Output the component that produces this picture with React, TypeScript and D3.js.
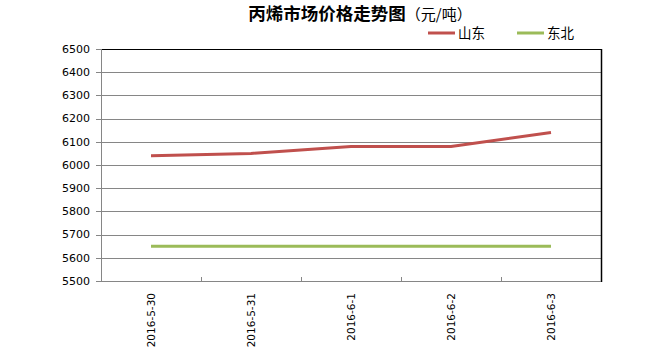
import React from "react";
import * as d3 from "d3";

const categories = ["2016-5-30", "2016-5-31", "2016-6-1", "2016-6-2", "2016-6-3"];
const shandong = [6040, 6050, 6080, 6080, 6140];
const dongbei = [5650, 5650, 5650, 5650, 5650];
const yTicks = [5500, 5600, 5700, 5800, 5900, 6000, 6100, 6200, 6300, 6400, 6500];
const seriesNames = ["山东", "东北"];
const colors = ["#C0504D", "#9BBB59"];

export default function App() {
  const W = 660, H = 349;
  const L = 101, R = 601, T = 49, B = 281;
  const x = d3.scaleBand<string>().domain(categories).range([L, R]);
  const y = d3.scaleLinear().domain([5500, 6500]).range([B, T]);
  const line = d3
    .line<number>()
    .x((_, i) => (x(categories[i]) as number) + x.bandwidth() / 2)
    .y((d) => y(d));
  const series = [shandong, dongbei];
  const font = "'DejaVu Sans', Verdana, sans-serif";
  return (
    <svg
      width={W}
      height={H}
      style={{ position: "absolute", left: 0, top: 0, background: "#fff" }}
    >
      <rect x={0} y={0} width={W} height={H} fill="#fff" />
      <text
        x={360}
        y={20}
        textAnchor="middle"
        fontFamily="'Noto Sans CJK SC', sans-serif"
        fontSize={17.5}
        fill="#000"
      >
        <tspan fontWeight="bold">丙烯市场价格走势图</tspan>
        <tspan fontSize={15}>（元/吨）</tspan>
      </text>
      {/* gridlines */}
      {yTicks.map((t) => (
        <line
          key={t}
          x1={L}
          x2={R}
          y1={Math.round(y(t)) + 0.5}
          y2={Math.round(y(t)) + 0.5}
          stroke={t === 6500 ? "#000" : "#868686"}
          strokeWidth={1}
        />
      ))}
      {yTicks.map((t) => (
        <g key={"t" + t}>
          <line x1={L - 5} x2={L} y1={Math.round(y(t)) + 0.5} y2={Math.round(y(t)) + 0.5} stroke="#868686" />
          <text
            x={90}
            y={y(t)}
            dy="0.35em"
            textAnchor="end"
            fontFamily={font}
            fontSize={11}
            fill="#000"
          >
            {t}
          </text>
        </g>
      ))}
      {/* axes */}
      <line x1={L + 0.5} x2={L + 0.5} y1={T} y2={B} stroke="#868686" />
      <line x1={R + 0.5} x2={R + 0.5} y1={T} y2={B + 1} stroke="#000" strokeWidth={1.5} />
      <line x1={L} x2={R} y1={B + 0.5} y2={B + 0.5} stroke="#868686" />
      {categories.map((c, i) => {
        const x0 = x(c) as number;
        return (
          <g key={c}>
            {i > 0 && (
              <line x1={x0 + 0.5} x2={x0 + 0.5} y1={B} y2={B - 4} stroke="#868686" />
            )}
            <text
              transform={`translate(${x0 + x.bandwidth() / 2 + 4},293) rotate(-90)`}
              textAnchor="end"
              fontFamily={font}
              fontSize={10.5}
              fill="#000"
            >
              {c}
            </text>
          </g>
        );
      })}
      {series.map((s, i) => (
        <path
          key={i}
          d={line(s) as string}
          fill="none"
          stroke={colors[i]}
          strokeWidth={3}
          strokeLinejoin="round"
        />
      ))}
      {/* legend */}
      {seriesNames.map((n, i) => {
        const lx = 428 + i * 89;
        return (
          <g key={n}>
            <line x1={lx} x2={lx + 27} y1={33} y2={33} stroke={colors[i]} strokeWidth={3} />
            <text
              x={lx + 30}
              y={33}
              dy="0.35em"
              fontFamily="'Noto Sans CJK SC', sans-serif"
              fontSize={13.5}
              fill="#000"
            >
              {n}
            </text>
          </g>
        );
      })}
    </svg>
  );
}
